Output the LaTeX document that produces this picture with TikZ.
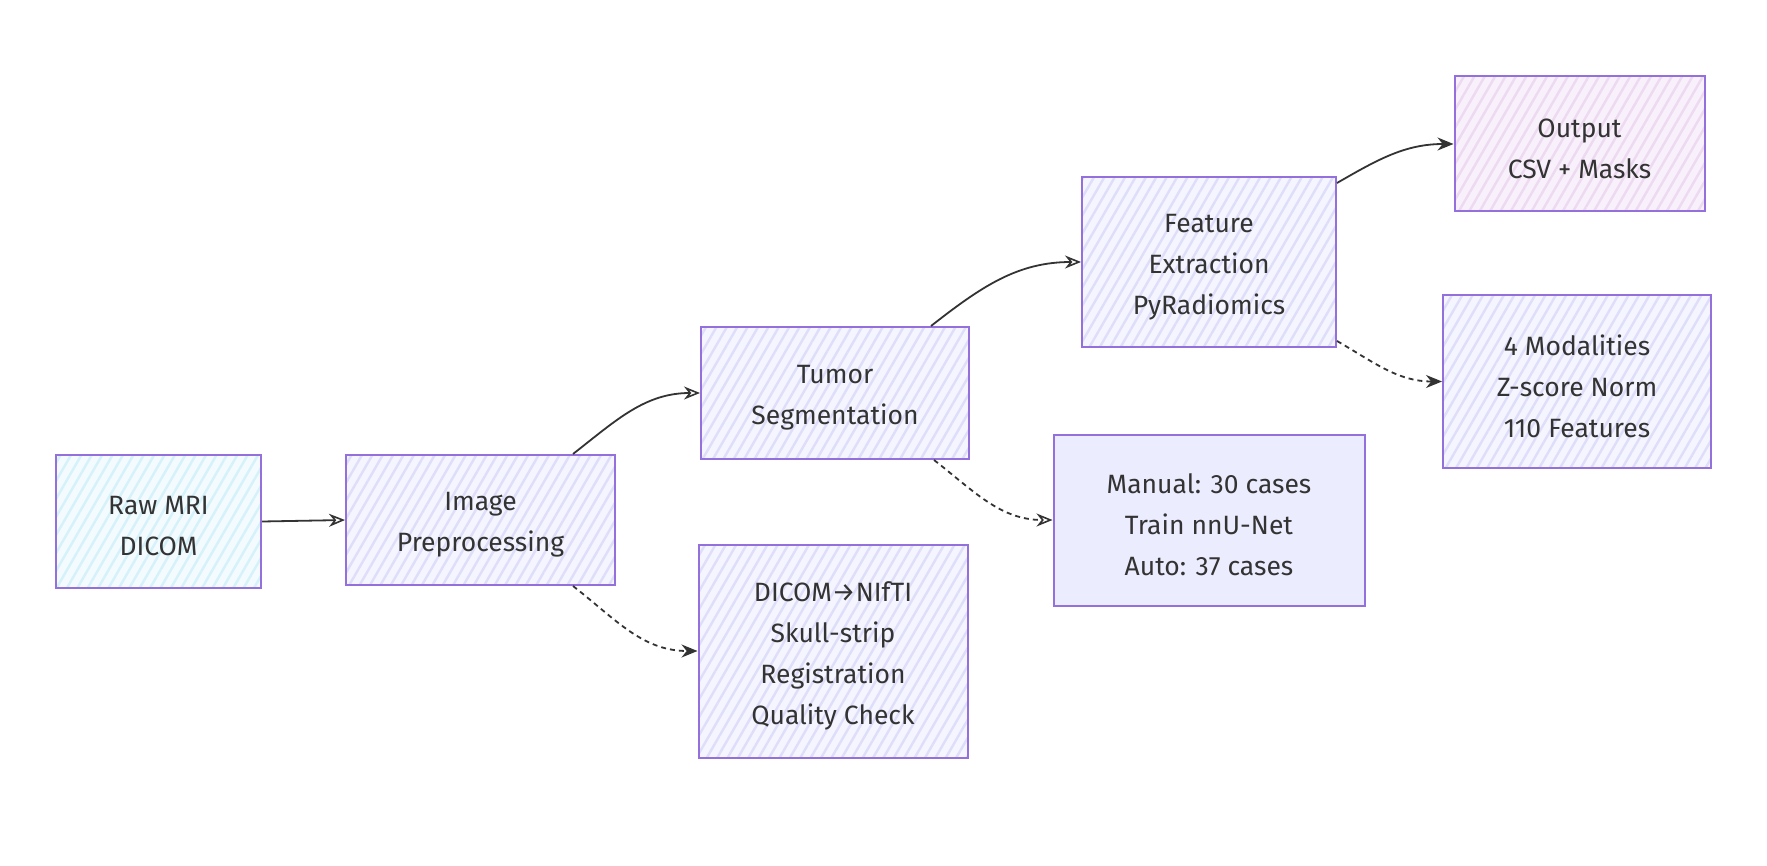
\documentclass[tikz,border=0pt]{standalone}
\usepackage{fontspec}
\setmainfont{Fira Sans}
\usetikzlibrary{arrows.meta,patterns.meta}
\definecolor{nodestroke}{HTML}{9370DB}
\definecolor{txt}{HTML}{333333}
\definecolor{defbase}{HTML}{F5F5FF}
\definecolor{defhatch}{HTML}{DEDEFA}
\definecolor{cybase}{HTML}{F3FBFE}
\definecolor{cyhatch}{HTML}{D5F2FB}
\definecolor{pubase}{HTML}{F8F0FA}
\definecolor{puhatch}{HTML}{EDDAF1}
\definecolor{solidfill}{HTML}{ECECFF}
\tikzset{
  box/.style={draw=nodestroke, line width=2pt, inner sep=0pt},
  boxtext/.style={text=txt, align=center, inner sep=0pt, yshift=-5pt,
    font=\fontsize{26.5}{41}\selectfont},
  hatch/.style={pattern={Lines[angle=60,distance=9pt,line width=2.4pt]}},
  defbox/.style={box, preaction={fill=defbase}, hatch, pattern color=defhatch},
  cybox/.style={box, preaction={fill=cybase}, hatch, pattern color=cyhatch},
  pubox/.style={box, preaction={fill=pubase}, hatch, pattern color=puhatch},
  solidbox/.style={box, fill=solidfill},
  conn/.style={draw=txt, line width=1.8pt},
  openarr/.style={conn, -{Stealth[open,length=16pt,width=13pt,line width=1.6pt]}},
  fillarr/.style={conn, -{Stealth[length=16pt,width=13pt]}},
  dashedconn/.style={dash pattern=on 5pt off 4pt}
}
\begin{document}
\begin{tikzpicture}[x=1pt,y=-1pt]
\useasboundingbox (0,0) rectangle (1767,866);
\node[cybox, minimum width=205pt, minimum height=133pt,
  label={[boxtext]center:{Raw MRI\\DICOM}}] (raw) at (158.5,521.5) {};
\node[defbox, minimum width=269pt, minimum height=130pt,
  label={[boxtext]center:{Image\\Preprocessing}}] (img) at (480.5,520) {};
\node[defbox, minimum width=268pt, minimum height=132pt,
  label={[boxtext]center:{Tumor\\Segmentation}}] (tum) at (835,393) {};
\node[defbox, minimum width=269pt, minimum height=213pt,
  label={[boxtext]center:{DICOM→NIfTI\\Skull-strip\\Registration\\Quality Check}}] (dcm) at (833,651) {};
\node[solidbox, minimum width=311pt, minimum height=171pt,
  label={[boxtext]center:{Manual: 30 cases\\Train nnU-Net\\Auto: 37 cases}}] (man) at (1209,520) {};
\node[defbox, minimum width=254pt, minimum height=170pt,
  label={[boxtext]center:{Feature\\Extraction\\PyRadiomics}}] (feat) at (1209,262) {};
\node[pubox, minimum width=250pt, minimum height=135pt,
  label={[boxtext]center:{Output\\CSV + Masks}}] (out) at (1579.5,144) {};
\node[defbox, minimum width=268pt, minimum height=173pt,
  label={[boxtext]center:{4 Modalities\\Z-score Norm\\110 Features}}] (mod) at (1577,381.5) {};

\draw[openarr] (raw.east) -- (img.west);
\draw[openarr] ([xshift=-43pt]img.north east) to[out=38,in=180] (tum.west);
\draw[fillarr,dashedconn] ([xshift=-43pt]img.south east) to[out=-38,in=180] (dcm.west);
\draw[openarr] ([xshift=-39pt]tum.north east) to[out=38,in=180] (feat.west);
\draw[openarr,dashedconn] ([xshift=-36pt]tum.south east) to[out=-38,in=180] (man.west);
\draw[fillarr] ([yshift=-7pt]feat.north east) to[out=30,in=180] (out.west);
\draw[fillarr,dashedconn] ([yshift=7pt]feat.south east) to[out=-30,in=180] (mod.west);
\end{tikzpicture}
\end{document}
